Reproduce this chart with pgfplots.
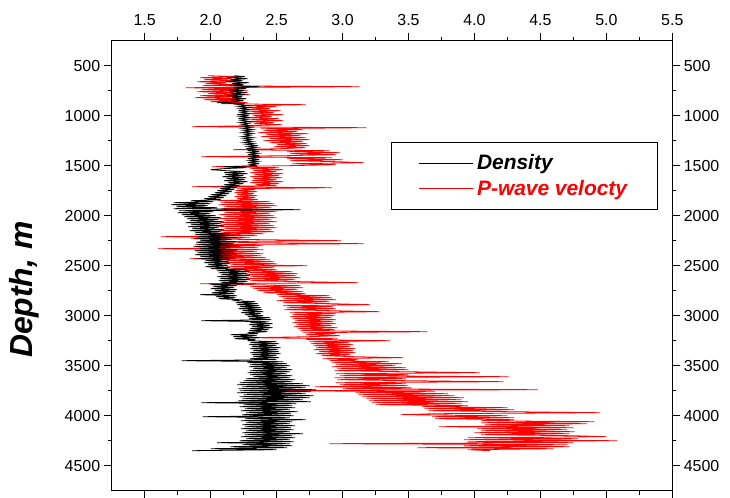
\documentclass[border=0pt]{standalone}
\usepackage{fontspec}
\setmainfont{Liberation Sans}
\usepackage{pgfplots}
\usepackage{pgfplotstable}
\pgfplotsset{compat=1.18}

\pgfplotstableread{
dep D V
600 2.18 1.98
610 2.26 2.20
620 2.12 1.92
630 2.28 2.16
640 2.15 1.95
650 2.24 2.24
660 2.11 1.90
670 2.29 2.12
680 2.16 1.96
690 2.25 2.22
700 2.14 1.94
710 2.37 3.13
720 2.18 1.81
730 2.27 2.25
740 2.13 1.93
750 2.25 2.28
760 2.14 1.90
770 2.28 2.18
780 2.15 1.98
790 2.26 2.30
800 2.12 1.92
810 2.24 2.20
820 2.16 1.88
830 2.27 2.26
840 2.14 1.95
850 2.25 2.22
860 2.18 2.00
870 2.05 2.28
880 2.26 2.08
890 2.20 2.72
900 2.28 2.25
910 2.21 2.50
920 2.29 2.28
930 2.22 2.45
940 2.30 2.26
950 2.21 2.53
960 2.28 2.30
970 2.23 2.48
980 2.30 2.27
990 2.20 2.55
1000 2.29 2.32
1010 2.22 2.46
1020 2.30 2.28
1030 2.21 2.52
1040 2.28 2.30
1050 2.23 2.55
1060 2.30 2.26
1070 2.22 2.48
1080 2.29 2.33
1090 2.24 2.54
1100 2.30 2.30
1110 2.25 1.86
1120 2.31 3.18
1130 2.24 2.38
1140 2.32 2.70
1150 2.25 2.40
1160 2.31 2.66
1170 2.24 2.36
1180 2.32 2.74
1190 2.26 2.42
1200 2.30 2.68
1210 2.24 2.38
1220 2.32 2.72
1230 2.25 2.44
1240 2.31 2.75
1250 2.26 2.40
1260 2.32 2.70
1270 2.25 2.45
1280 2.33 2.73
1290 2.27 2.50
1300 2.36 2.75
1310 2.28 2.48
1320 2.35 2.72
1330 2.27 2.52
1340 2.36 2.17
1350 2.28 2.90
1360 2.37 2.58
1370 2.29 2.98
1380 2.36 2.60
1390 2.28 2.95
1400 2.37 2.56
1410 2.30 1.93
1420 2.36 2.92
1430 2.28 2.58
1440 2.37 3.00
1450 2.29 2.60
1460 2.36 2.96
1470 2.28 3.16
1480 2.37 2.62
1490 2.30 2.95
1500 2.35 2.58
1510 2.10 2.01
1520 2.27 2.52
1530 2.09 2.30
1540 2.00 2.55
1550 2.12 2.32
1560 2.26 2.50
1570 2.10 2.30
1580 2.28 2.55
1590 2.11 2.33
1600 2.25 2.52
1610 2.09 2.30
1620 2.27 2.54
1630 2.12 2.32
1640 2.26 2.50
1650 2.10 2.31
1660 2.28 2.55
1670 2.13 2.30
1680 2.25 2.52
1690 2.10 2.34
1700 2.22 2.50
1710 2.08 1.86
1720 2.20 2.92
1730 2.07 2.20
1740 2.18 2.34
1750 2.05 2.19
1760 2.16 2.35
1770 2.03 2.18
1780 2.14 2.33
1790 2.00 2.20
1800 2.12 2.35
1810 1.98 2.18
1820 2.10 2.34
1830 1.95 2.20
1840 2.08 2.36
1850 1.85 2.05
1860 2.02 2.45
1870 1.72 2.08
1880 2.00 2.48
1890 1.70 2.06
1900 1.98 2.50
1910 1.74 2.10
1920 2.05 2.46
1930 1.72 2.08
1940 2.68 2.48
1950 1.76 2.05
1960 2.02 2.50
1970 1.75 2.10
1980 2.00 2.45
1990 1.78 2.06
2000 2.04 2.48
2010 1.80 2.10
2020 2.08 2.50
2030 1.82 2.05
2040 2.06 2.46
2050 1.84 2.10
2060 2.10 2.50
2070 1.81 2.06
2080 2.08 2.45
2090 1.85 2.08
2100 2.10 2.48
2110 1.83 2.05
2120 2.06 2.50
2130 1.86 2.10
2140 2.10 2.46
2150 1.84 2.06
2160 2.08 2.48
2170 1.88 2.08
2180 2.15 2.40
2190 1.88 1.95
2200 2.18 2.35
2210 1.90 1.62
2220 2.20 2.30
2230 1.88 1.85
2240 2.16 2.40
2250 1.92 2.99
2260 2.19 1.90
2270 1.89 2.38
2280 2.18 3.16
2290 1.90 1.88
2300 2.20 2.40
2310 1.87 1.95
2320 2.15 2.36
2330 1.92 1.60
2340 2.20 2.40
2350 1.88 1.88
2360 2.17 2.35
2370 1.90 1.92
2380 2.19 2.40
2390 1.88 1.90
2400 2.16 2.38
2410 1.92 2.05
2420 2.18 2.42
2430 1.90 1.84
2440 2.15 2.45
2450 1.96 2.12
2460 2.14 2.48
2470 1.95 2.10
2480 2.15 2.50
2490 1.98 2.15
2500 2.13 2.73
2510 1.96 2.12
2520 2.15 2.48
2530 2.00 2.15
2540 2.28 2.50
2550 2.05 2.25
2560 2.30 2.62
2570 2.06 2.28
2580 2.28 2.66
2590 2.08 2.26
2600 2.30 2.65
2610 2.05 2.30
2620 2.29 2.68
2630 2.07 2.27
2640 2.30 2.64
2650 2.06 2.30
2660 2.28 2.70
2670 2.08 3.12
2680 2.25 1.92
2690 2.00 2.35
2700 2.20 2.68
2710 2.02 2.30
2720 2.18 2.70
2730 2.00 2.32
2740 2.20 2.66
2750 2.03 2.35
2760 2.19 2.70
2770 2.01 2.40
2780 2.18 2.72
2790 1.92 2.50
2800 2.20 2.90
2810 2.04 2.52
2820 2.19 2.92
2830 2.06 2.55
2840 2.22 2.95
2850 2.18 2.50
2860 2.34 2.90
2870 2.19 2.55
2880 2.36 2.92
2890 2.20 3.21
2900 2.37 2.55
2910 2.22 2.93
2920 2.38 2.58
2930 2.21 2.95
2940 2.39 2.56
2950 2.24 2.92
2960 2.40 3.28
2970 2.23 2.60
2980 2.38 2.95
2990 2.26 2.62
3000 2.40 2.94
3010 2.28 2.60
3020 2.45 2.92
3030 2.29 2.62
3040 2.46 2.95
3050 1.93 2.64
3060 2.44 2.93
3070 2.30 2.62
3080 2.47 2.95
3090 2.29 2.65
3100 2.45 2.92
3110 2.31 2.63
3120 2.47 2.96
3130 2.30 2.66
3140 2.44 2.94
3150 2.29 2.68
3160 2.43 3.64
3170 2.28 2.70
3180 2.36 2.95
3190 2.15 2.72
3200 2.35 2.98
3210 2.17 2.74
3220 2.37 2.30
3230 2.18 2.96
3240 2.34 2.72
3250 2.28 3.36
3260 2.50 2.75
3270 2.30 3.05
3280 2.52 2.76
3290 2.29 3.08
3300 2.50 2.78
3310 2.31 3.06
3320 2.53 2.80
3330 2.30 3.10
3340 2.51 2.78
3350 2.32 3.08
3360 2.52 2.82
3370 2.30 3.10
3380 2.53 2.80
3390 2.31 3.06
3400 2.50 2.84
3410 2.32 3.10
3420 2.52 3.46
3430 2.30 2.85
3440 2.50 3.12
3450 1.78 2.90
3460 2.55 3.35
3470 2.28 2.92
3480 2.58 3.45
3490 2.30 2.95
3500 2.60 3.40
3510 2.29 2.92
3520 2.58 3.48
3530 2.32 2.96
3540 2.62 3.50
3550 2.30 2.94
3560 2.60 3.46
3570 2.28 4.04
3580 2.58 2.95
3590 2.30 3.50
3600 2.62 2.98
3610 2.32 4.26
3620 2.60 2.94
3630 2.27 3.48
3640 2.64 2.96
3650 2.25 3.50
3660 2.62 4.22
3670 2.22 2.95
3680 2.70 3.48
3690 2.20 2.98
3700 2.75 3.50
3710 2.24 2.79
3720 2.72 3.52
3730 2.21 3.00
3740 2.80 4.48
3750 2.22 2.45
3760 2.76 3.70
3770 2.20 3.10
3780 2.72 3.80
3790 2.25 3.12
3800 2.78 3.85
3810 2.22 3.15
3820 2.75 3.92
3830 2.24 3.18
3840 2.70 3.90
3850 2.21 3.20
3860 2.76 3.95
3870 1.93 3.22
3880 2.65 3.90
3890 2.25 3.25
3900 2.62 3.95
3910 2.22 3.60
3920 2.64 4.25
3930 2.26 3.62
3940 2.60 4.30
3950 2.23 3.65
3960 2.66 4.28
3970 2.27 4.95
3980 2.61 3.70
3990 2.24 3.44
4000 2.63 4.25
4010 1.94 3.68
4020 2.60 4.30
4030 2.26 3.70
4040 2.72 4.30
4050 2.23 4.05
4060 2.62 4.91
4070 2.27 4.05
4080 2.60 4.85
4090 2.24 4.08
4100 2.64 4.72
4110 2.26 3.73
4120 2.61 4.75
4130 2.23 4.02
4140 2.63 4.70
4150 2.27 4.05
4160 2.60 4.76
4170 2.24 4.00
4180 2.70 4.72
4190 2.26 4.05
4200 2.62 4.75
4210 2.23 5.00
4220 2.64 3.95
4230 2.27 4.78
4240 2.60 3.92
4250 2.22 5.08
4260 2.63 3.95
4270 2.05 4.75
4280 2.60 2.90
4290 2.24 4.70
4300 2.62 3.92
4310 2.15 4.72
4320 2.58 3.57
4330 2.00 4.60
4340 2.50 3.95
4350 1.86 4.12
}\logdata

\begin{document}
\begin{tikzpicture}
\path[use as bounding box] (-111.7bp,-7.3bp) rectangle (618.3bp,490.7bp);
\begin{axis}[
  at={(0,0)}, anchor=south west, scale only axis,
  width=560.6bp, height=450bp,
  xmin=1.25, xmax=5.5, ymin=250, ymax=4750, y dir=reverse,
  xtick={1.5,2,...,5.5}, minor x tick num=1,
  ytick={500,1000,...,4500}, minor y tick num=1,
  xtick pos=both, xticklabel pos=right,
  ytick pos=both, yticklabel pos=left,
  tick align=outside, major tick length=8bp, minor tick length=4bp,
  every tick/.style={black, line width=1bp},
  axis line style={line width=1.2bp},
  ticklabel style={font=\fontsize{16}{19}\selectfont},
  /pgf/number format/assume math mode=true,
  xticklabel style={yshift=4bp, /pgf/number format/.cd, fixed, fixed zerofill, precision=1},
  yticklabel style={/pgf/number format/1000 sep={}},
  ylabel={\textbf{\textit{Depth, m}}},
  every axis y label/.style={at={(axis description cs:0,0.5)}, xshift=-87.7bp, yshift=-24bp, rotate=90, anchor=center, font=\fontsize{32}{36}\selectfont},
  reverse legend,
  legend cell align=left,
  legend image code/.code={\draw[#1, line width=0.8bp] (0bp,0bp) -- (54bp,0bp);},
  legend style={at={(0.9745,0.7742)}, anchor=north east, draw=black, line width=0.8bp,
    font=\fontsize{21}{25}\selectfont\bfseries\itshape,
    inner xsep=27bp, inner ysep=11bp, row sep=7bp,
    nodes={inner ysep=1bp, inner xsep=3.5bp}},
]
\addplot[red, line width=0.8bp] table[x=V, y=dep] {\logdata};
\addlegendentry{\textcolor{red}{P-wave velocty}}
\addplot[black, line width=0.8bp] table[x=D, y=dep] {\logdata};
\addlegendentry{Density}
\end{axis}
\begin{axis}[
  at={(0,0)}, anchor=south west, scale only axis,
  width=560.6bp, height=450bp,
  xmin=1.25, xmax=5.5, ymin=250, ymax=4750, y dir=reverse,
  hide x axis, axis y line*=right,
  ytick={500,1000,...,4500}, minor y tick num=1,
  tick align=outside, major tick length=8bp, minor tick length=4bp,
  every tick/.style={black, line width=1bp},
  axis line style={line width=1.2bp},
  ticklabel style={font=\fontsize{16}{19}\selectfont},
  /pgf/number format/assume math mode=true,
  yticklabel style={/pgf/number format/1000 sep={}},
]
\end{axis}
\end{tikzpicture}
\end{document}
